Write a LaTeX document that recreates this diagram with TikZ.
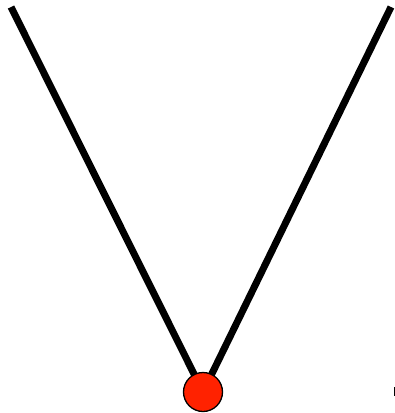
\documentclass[tikz,border=0pt]{standalone}
\begin{document}
\begin{tikzpicture}[x=1pt,y=-1pt,
  rod/.style={line width=7pt,black},
  ball/.style={circle,draw=black,line width=1.3pt,fill={rgb,255:red,255;green,34;blue,0},minimum size=39pt,inner sep=0pt}]
\useasboundingbox (0,0) rectangle (395,413);
\coordinate (tl) at (11,7);
\coordinate (tr) at (391,7);
\coordinate (c) at (203,392);
\draw[rod] (tl) -- (c);
\draw[rod] (tr) -- (c);
\node[ball] (bob) at (c) {};
\coordinate (t1) at (394.5,387);
\coordinate (t2) at (394.5,396);
\draw[line width=1pt] (t1) -- (t2);
\end{tikzpicture}
\end{document}
